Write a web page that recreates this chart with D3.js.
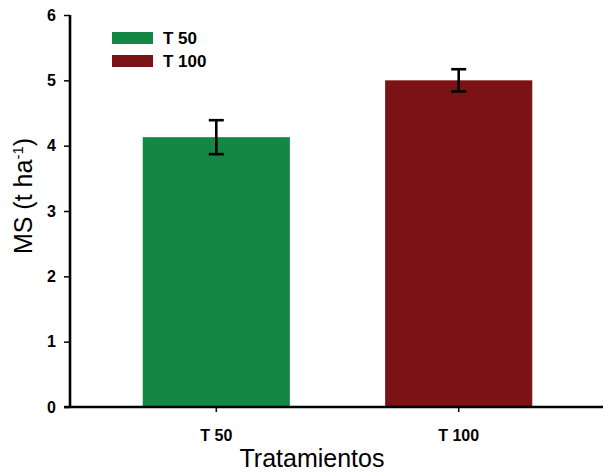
<!DOCTYPE html>
<html><head><meta charset="utf-8">
<script src="https://cdn.jsdelivr.net/npm/d3@7"></script>
<style>body{margin:0;background:#fff}svg{display:block}text{font-family:Arial,"Liberation Sans",sans-serif}</style>
</head><body>
<svg id="c" width="603" height="472"></svg>
<script>
const categories = ["T 50", "T 100"];
const values = [4.13, 5.0];
const errors = [0.26, 0.17];
const colors = ["#138743", "#7a1216"];
const yTicks = [0, 1, 2, 3, 4, 5, 6];

const svg = d3.select("#c");
const x = d3.scaleBand().domain(categories).range([70, 605]).paddingInner(0.393).paddingOuter(0.30);
const y = d3.scaleLinear().domain([0, 6]).range([407, 15]);

// bars
svg.selectAll("rect.bar").data(categories).join("rect")
  .attr("x", d => x(d)).attr("width", x.bandwidth())
  .attr("y", (d, i) => y(values[i])).attr("height", (d, i) => y(0) - y(values[i]))
  .attr("fill", (d, i) => colors[i]);

// error bars
const eb = svg.selectAll("g.err").data(categories).join("g").attr("stroke", "#000").attr("stroke-width", 2.6);
eb.append("line").attr("x1", d => x(d) + x.bandwidth() / 2).attr("x2", d => x(d) + x.bandwidth() / 2)
  .attr("y1", (d, i) => y(values[i] + errors[i])).attr("y2", (d, i) => y(values[i] - errors[i]));
eb.append("line").attr("x1", d => x(d) + x.bandwidth() / 2 - 7.5).attr("x2", d => x(d) + x.bandwidth() / 2 + 7.5)
  .attr("y1", (d, i) => y(values[i] + errors[i])).attr("y2", (d, i) => y(values[i] + errors[i]));
eb.append("line").attr("x1", d => x(d) + x.bandwidth() / 2 - 7.5).attr("x2", d => x(d) + x.bandwidth() / 2 + 7.5)
  .attr("y1", (d, i) => y(values[i] - errors[i])).attr("y2", (d, i) => y(values[i] - errors[i]));

// y axis
const ya = svg.append("g").attr("transform", "translate(70,0)")
  .call(d3.axisLeft(y).tickValues(yTicks).tickFormat(d3.format("d")).tickSize(6).tickPadding(8));
ya.select(".domain").attr("stroke-width", 2.6).attr("d", "M0,15V407");
ya.selectAll(".tick line").attr("stroke-width", 1.5);
ya.selectAll(".tick text").attr("font-size", 16).attr("font-weight", "bold").attr("fill", "#000").attr("font-family", "Arial,'Liberation Sans',sans-serif");

// x axis
const xa = svg.append("g").attr("transform", "translate(0,407)")
  .call(d3.axisBottom(x).tickSize(5).tickPadding(18));
xa.select(".domain").attr("stroke-width", 2.6).attr("d", "M64,0H603");
xa.selectAll(".tick line").attr("stroke-width", 1.5);
xa.selectAll(".tick text").attr("font-size", 16).attr("font-weight", "bold").attr("fill", "#000").attr("font-family", "Arial,'Liberation Sans',sans-serif");

// axis titles
svg.append("text").attr("x", 312).attr("y", 467).attr("text-anchor", "middle")
  .attr("font-size", 25).text("Tratamientos");
const yt = svg.append("text").attr("transform", "translate(32,196) rotate(-90)").attr("text-anchor", "middle").attr("font-size", 25);
yt.append("tspan").text("MS (t ha");
yt.append("tspan").attr("font-size", 15).attr("dy", -9).text("-1");
yt.append("tspan").attr("dy", 9).text(")");

// legend
const lg = svg.selectAll("g.leg").data(categories).join("g")
  .attr("transform", (d, i) => `translate(112,${32 + i * 23})`);
lg.append("rect").attr("width", 41).attr("height", 12).attr("fill", (d, i) => colors[i]);
lg.append("text").attr("x", 51).attr("y", 12).attr("font-size", 17).attr("font-weight", "bold").text(d => d);
</script>
</body></html>
